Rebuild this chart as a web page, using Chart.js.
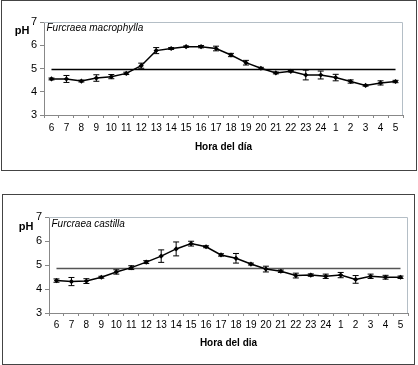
<!DOCTYPE html>
<html><head><meta charset="utf-8">
<script src="https://cdn.jsdelivr.net/npm/chart.js@4"></script>
<style>
body{margin:0;background:#fff;width:418px;height:365px;overflow:hidden;position:relative;font-family:"Liberation Sans",Arial,sans-serif}
.box{position:absolute;border:1.5px solid #444;box-sizing:border-box}
canvas{position:absolute;left:0;top:0}
</style></head><body>
<div class="box" style="left:1px;top:0;width:416px;height:171px"></div>
<div class="box" style="left:2px;top:194px;width:413px;height:171px"></div>
<div style="position:absolute;left:0;top:0;width:418px;height:180px"><canvas id="c1" width="418" height="180"></canvas></div>
<div style="position:absolute;left:0;top:185px;width:418px;height:180px"><canvas id="c2" width="418" height="180"></canvas></div>
<script>
const hours = ['6','7','8','9','10','11','12','13','14','15','16','17','18','19','20','21','22','23','24','1','2','3','4','5'];
const yTicks = [3,4,5,6,7];
const macrophyllaPH  = [4.55,4.55,4.46,4.59,4.65,4.79,5.12,5.77,5.86,5.94,5.94,5.86,5.58,5.25,5.01,4.81,4.88,4.72,4.72,4.61,4.44,4.27,4.38,4.44];
const macrophyllaErr = [0.04,0.15,0.04,0.14,0.09,0.05,0.11,0.13,0.04,0.03,0.05,0.10,0.07,0.10,0.04,0.04,0.03,0.21,0.17,0.14,0.07,0.03,0.09,0.05];
const macrophyllaRef = 4.96;
const castillaPH  = [4.35,4.31,4.33,4.49,4.71,4.89,5.12,5.37,5.67,5.89,5.76,5.42,5.28,5.04,4.83,4.74,4.56,4.58,4.53,4.58,4.40,4.53,4.49,4.49];
const castillaErr = [0.07,0.17,0.10,0.04,0.09,0.08,0.06,0.26,0.29,0.10,0.04,0.05,0.20,0.04,0.12,0.05,0.10,0.05,0.09,0.11,0.16,0.09,0.08,0.05];
const castillaRef = 4.85;

const FONT = '"Liberation Sans", Arial, sans-serif';

const deco = {
  id: 'deco',
  beforeDatasetsDraw(chart, args, o) {
    const {ctx, chartArea: a} = chart;
    ctx.save();
    ctx.strokeStyle = '#b4bec6';
    ctx.lineWidth = 1;
    ctx.beginPath();
    ctx.moveTo(a.left, a.top + 0.5); ctx.lineTo(a.right - 0.5, a.top + 0.5); ctx.lineTo(a.right - 0.5, a.bottom);
    ctx.stroke();
    ctx.restore();
  },
  afterDatasetsDraw(chart, args, o) {
    const {ctx, chartArea: a} = chart;
    const meta = chart.getDatasetMeta(0);
    const ys = chart.scales.y;
    ctx.save();
    ctx.strokeStyle = '#000';
    ctx.lineWidth = 1;
    o.err.forEach((e, i) => {
      const p = meta.data[i];
      const v = chart.data.datasets[0].data[i];
      const y1 = ys.getPixelForValue(v + e), y2 = ys.getPixelForValue(v - e);
      ctx.beginPath();
      ctx.moveTo(p.x, y1); ctx.lineTo(p.x, y2);
      ctx.moveTo(p.x - 3, y1); ctx.lineTo(p.x + 3, y1);
      ctx.moveTo(p.x - 3, y2); ctx.lineTo(p.x + 3, y2);
      ctx.stroke();
    });
    ctx.fillStyle = '#000';
    ctx.textBaseline = 'middle';
    ctx.textAlign = 'left';
    ctx.font = 'italic 10px ' + FONT;
    ctx.fillText(o.name, a.left + o.nameDx, a.top + o.nameDy);
    ctx.textAlign = 'center';
    ctx.font = 'bold 11px ' + FONT;
    ctx.fillText('pH', a.left + o.phDx, a.top + o.phDy);
    ctx.restore();
  }
};

function make(id, values, err, ref, cfg) {
  return new Chart(document.getElementById(id), {
    type: 'line',
    data: {
      labels: hours,
      datasets: [
        {data: values, borderColor: '#000', borderWidth: 1.5, pointStyle: 'rectRot', pointRadius: 2.6,
         pointBackgroundColor: '#000', pointBorderColor: '#000', pointBorderWidth: 0, tension: 0},
        {data: hours.map(() => ref), borderColor: cfg.refColor, borderWidth: 1.5, pointRadius: 0, tension: 0}
      ]
    },
    options: {
      responsive: false, animation: false, events: [],
      layout: {padding: cfg.padding},
      plugins: {legend: {display: false}, tooltip: {enabled: false},
        deco: {err: err, name: cfg.name, nameDx: cfg.nameDx, nameDy: cfg.nameDy, phDx: cfg.phDx, phDy: cfg.phDy}},
      scales: {
        x: {
          type: 'category', offset: true,
          grid: {display: true, drawOnChartArea: false, offset: true, tickLength: 3, color: '#888'},
          border: {color: '#888', width: 1},
          ticks: {color: '#000', font: {size: 10, family: FONT}, padding: cfg.xPad, maxRotation: 0, autoSkip: false},
          title: {display: true, text: cfg.xTitle, color: '#000', font: {size: 10, weight: 'bold', family: FONT}, padding: {top: 0, bottom: cfg.titlePad}},
          afterFit(s) { s.height = cfg.xH; }
        },
        y: {
          min: yTicks[0], max: yTicks[yTicks.length - 1],
          grid: {display: true, drawOnChartArea: false, tickLength: 4, color: '#888'},
          border: {color: '#888', width: 1},
          ticks: {stepSize: 1, color: '#000', font: {size: 11, family: FONT}, padding: 3},
          afterFit(s) { s.width = cfg.yW; }
        }
      }
    },
    plugins: [deco]
  });
}

make('c1', macrophyllaPH, macrophyllaErr, macrophyllaRef, {
  padding: {left: 0, right: 15, top: 22, bottom: 25}, xH: 40, yW: 44, xPad: 4, titlePad: 2,
  refColor: '#000', name: 'Furcraea macrophylla', nameDx: 2.5, nameDy: 6.6, phDx: -22, phDy: 9,
  xTitle: 'Hora del día'
});
make('c2', castillaPH, castillaErr, castillaRef, {
  padding: {left: 0, right: 10, top: 32, bottom: 16}, xH: 36, yW: 49, xPad: 3, titlePad: 0,
  refColor: '#555', name: 'Furcraea castilla', nameDx: 2.5, nameDy: 7.7, phDx: -23, phDy: 10.4,
  xTitle: 'Hora del dia'
});
</script>
</body></html>
